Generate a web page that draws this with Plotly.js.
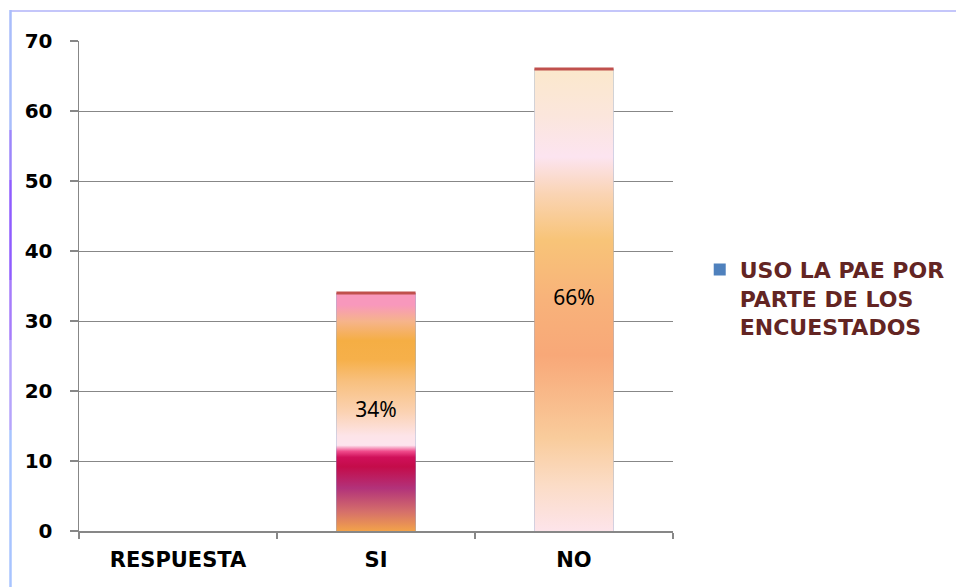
<!DOCTYPE html>
<html>
<head>
<meta charset="utf-8">
<script src="https://cdn.plot.ly/plotly-3.0.1.min.js"></script>
<style>html,body{margin:0;padding:0;background:#fff;}#chart{width:956px;height:587px;}</style>
</head>
<body>
<div id="chart"></div>
<script>
// ---- data ----
const categorias = ['RESPUESTA', 'SI', 'NO'];
const valores = [null, 34, 66];
const etiquetas = ['', '34%', '66%'];
const serieNombre = 'USO LA PAE POR<br>PARTE DE LOS<br>ENCUESTADOS';

// gradient colorscales per bar (visual styling)
const gradientes = [
  null,
  [[0,'#f2a24a'],[0.08,'#d6706a'],[0.18,'#b2327a'],[0.27,'#c40c4a'],[0.31,'#d0105a'],[0.335,'#f04c8c'],[0.36,'#fde4ee'],[0.40,'#fde4e8'],[0.5,'#fbd2b2'],[0.63,'#f8c07e'],[0.72,'#f6b04a'],[0.8,'#f5ae44'],[0.88,'#f6b48a'],[0.95,'#f898bc'],[1,'#f898bc']],
  [[0,'#fde4ea'],[0.1,'#fbdcc6'],[0.2,'#f9cc9c'],[0.38,'#f8a878'],[0.5,'#f8b27a'],[0.63,'#f8c478'],[0.73,'#fad4b4'],[0.81,'#fce4f0'],[0.9,'#fbe6dc'],[1,'#fbe8cc']]
];

const idx = categorias.map((c, i) => i);
const ancho = 0.4;

const traces = [];
// base bar trace (data + legend entry)
traces.push({
  type: 'bar', x: idx, y: valores, width: ancho,
  name: serieNombre, marker: {color: '#4f81bd', line: {width: 0}},
  hoverinfo: 'skip', showlegend: true
});
// gradient fills on top of bars
valores.forEach((v, i) => {
  if (v === null) return;
  traces.push({
    type: 'scatter', mode: 'none', fill: 'toself',
    x: [i - ancho/2, i + ancho/2, i + ancho/2, i - ancho/2, i - ancho/2],
    y: [0, 0, v, v, 0],
    fillgradient: {type: 'vertical', colorscale: gradientes[i], start: 0, stop: v},
    line: {width: 0}, showlegend: false, hoverinfo: 'skip'
  });
  traces.push({
    type: 'scatter', mode: 'lines',
    x: [i - ancho/2, i + ancho/2], y: [v, v],
    line: {color: '#c0504d', width: 3}, showlegend: false, hoverinfo: 'skip'
  });
});
// value labels
traces.push({
  type: 'scatter', mode: 'text',
  x: idx.filter(i => valores[i] !== null),
  y: idx.filter(i => valores[i] !== null).map(i => valores[i] / 2),
  text: idx.filter(i => valores[i] !== null).map(i => etiquetas[i]),
  textfont: {family: 'Noto Sans, sans-serif', size: 21, color: '#000'},
  textposition: 'middle center', showlegend: false, hoverinfo: 'skip'
});

const gris = '#878787';
const px = v => (v - 79) / 594;
const py = v => (531 - v) / 490;
const bordeIzq = [
  [10, 130, '#a9bdfb'], [130, 180, '#9c86fb'], [180, 280, '#8f5cff'],
  [280, 340, '#a67cfb'], [340, 430, '#b6a4fb'], [430, 600, '#a8c4ff']
];
const shapes = [
  {type: 'line', xref: 'paper', yref: 'paper', x0: px(10), x1: px(960), y0: py(11), y1: py(11),
   line: {color: '#c4c6fa', width: 2}}
];
bordeIzq.forEach(s => shapes.push({
  type: 'line', xref: 'paper', yref: 'paper', x0: px(10.5), x1: px(10.5), y0: py(s[0]), y1: py(s[1]),
  line: {color: s[2], width: 2.5}
}));

const layout = {
  width: 956, height: 587,
  margin: {l: 79, r: 283, t: 41, b: 56, autoexpand: false},
  paper_bgcolor: '#fff', plot_bgcolor: '#fff',
  showlegend: true,
  legend: {
    x: 1.045, xanchor: 'left', y: 0.475, yanchor: 'middle',
    font: {family: 'DejaVu Sans, sans-serif', size: 22, color: '#632523', weight: 'bold'},
    valign: 'top', itemwidth: 30, bgcolor: 'rgba(0,0,0,0)'
  },
  xaxis: {
    type: 'linear', range: [-0.5, 2.5],
    tickmode: 'array', tickvals: idx, ticktext: categorias,
    ticks: '', showgrid: false, zeroline: false,
    showline: true, linecolor: gris, linewidth: 1.5,
    tickfont: {family: 'DejaVu Sans, sans-serif', size: 21, color: '#000', weight: 'bold'},
    ticklabelstandoff: 9,
    minor: {tickmode: 'array', tickvals: [-0.5, 0.5, 1.5, 2.5], ticks: 'outside', ticklen: 6, tickcolor: gris, tickwidth: 1.5, showgrid: false},
    fixedrange: true
  },
  yaxis: {
    range: [0, 70], dtick: 10, tick0: 0,
    showgrid: true, gridcolor: gris, gridwidth: 1,
    zeroline: false, showline: true, linecolor: gris, linewidth: 1.5,
    ticks: 'outside', ticklen: 8, tickcolor: gris, tickwidth: 1.5,
    tickfont: {family: 'DejaVu Sans, sans-serif', size: 20, color: '#000', weight: 'bold'},
    ticklabelstandoff: 13,
    fixedrange: true
  },
  shapes: shapes
};

Plotly.newPlot('chart', traces, layout, {displayModeBar: false, staticPlot: true});
</script>
</body>
</html>
